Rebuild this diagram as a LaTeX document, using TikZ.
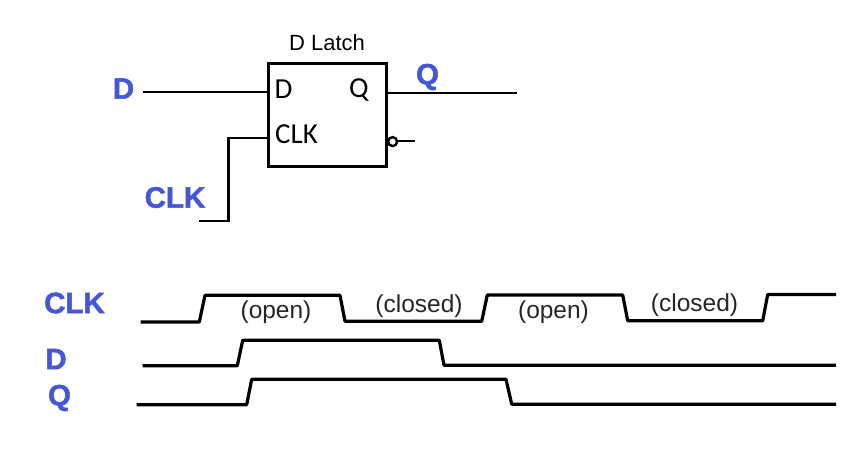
\documentclass[tikz,border=0pt]{standalone}
\usepackage{fontspec}
\setmainfont{Liberation Sans}[BoldFeatures={FakeBold=1.6}]
\newfontfamily\blockfont{Carlito}
\definecolor{sigblue}{HTML}{4557D6}
\tikzset{
  wire/.style={line width=2.4pt,line cap=butt,line join=miter},
  wave/.style={line width=3.2pt,line join=round},
  latchbox/.style={draw,line width=3.4pt,inner sep=0pt,minimum width=118pt,minimum height=103pt},
  siglabel/.style={text=sigblue,font=\fontsize{29.5}{32}\selectfont\bfseries,inner sep=0pt},
  pinlabel/.style={font=\blockfont\fontsize{29}{32}\selectfont,inner sep=0pt},
  captionlabel/.style={font=\fontsize{22}{26}\selectfont,inner sep=0pt},
  statelabel/.style={font=\fontsize{24.5}{28}\selectfont,inner sep=0pt,text=black!85},
  bubble/.style={circle,draw,line width=2.4pt,minimum size=9pt,inner sep=0pt,fill=white}
}
\begin{document}
\begin{tikzpicture}[x=1pt,y=-1pt]
\useasboundingbox (0,0) rectangle (868,451);
% latch block
\node[latchbox] (latch) at (327.2,114.8) {};
\node[captionlabel] (title) at (327,43) {D Latch};
\node[pinlabel] (pinD) at (283.5,89.5) {D};
\node[pinlabel] (pinQ) at (359,90) {Q};
\node[pinlabel] (pinCLK) at (296.5,134) {CLK};
\node[bubble] (qbar) at (392.6,141.6) {};
% external labels
\node[siglabel] (lblD) at (123.5,88.5) {D};
\node[siglabel] (lblQ) at (427.5,77) {Q};
\node[siglabel] (lblCLK) at (175,197.5) {CLK};
% wires
\coordinate (dIn) at (143,92);
\coordinate (qOut) at (516.5,93);
\coordinate (clkIn) at (199.3,221);
\coordinate (clkBend) at (228.3,221);
\coordinate (qbarOut) at (415,141);
\draw[wire] (dIn) -- (dIn -| latch.west);
\draw[wire] (qOut -| latch.east) -- (qOut);
\draw[wire] (clkIn) -- (clkBend) -- (228.3,138) -- (latch.west |- 0,138);
\draw[wire] (qbar.east |- qbarOut) -- (qbarOut);
% timing labels
\node[siglabel] (tCLK) at (74.5,303) {CLK};
\node[siglabel] (tD) at (56,359) {D};
\node[siglabel] (tQ) at (59.5,398) {Q};
% waveforms
\draw[wave] (140.7,322) -- (199.3,322) -- (205,295.3) -- (340,295.3) -- (345,321.3) -- (481.7,321.3) -- (487.3,295) -- (622.7,295) -- (627.7,320.8) -- (762.7,320.8) -- (767.7,294.5) -- (836,294.5);
\draw[wave] (142.7,365.7) -- (237.3,365.7) -- (242.7,340.3) -- (439.3,340.3) -- (444,365.3) -- (836,365.3);
\draw[wave] (136.7,404.7) -- (246.7,404.7) -- (251.7,379.3) -- (506,379.3) -- (511.7,404.2) -- (836,404.2);
% state labels
\node[statelabel] (s1) at (276,312) {(open)};
\node[statelabel] (s2) at (419,306) {(closed)};
\node[statelabel] (s3) at (553.5,312) {(open)};
\node[statelabel] (s4) at (694.5,305) {(closed)};
\end{tikzpicture}
\end{document}
